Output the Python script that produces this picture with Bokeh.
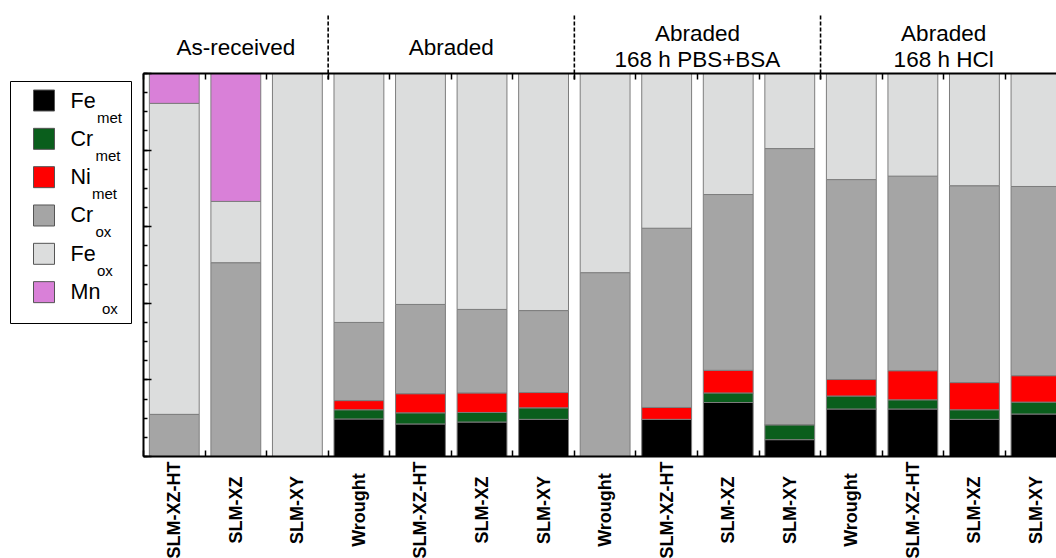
from math import pi
from bokeh.plotting import figure
from bokeh.models import Range1d, LinearAxis, FixedTicker, ColumnDataSource
from bokeh.core.properties import value
from bokeh.embed import file_html
from bokeh.resources import INLINE

# ---------------- data ----------------
samples = ["SLM-XZ-HT", "SLM-XZ", "SLM-XY",
           "Wrought", "SLM-XZ-HT", "SLM-XZ", "SLM-XY",
           "Wrought", "SLM-XZ-HT", "SLM-XZ", "SLM-XY",
           "Wrought", "SLM-XZ-HT", "SLM-XZ", "SLM-XY"]
groups = ["As-received", "Abraded", "Abraded\n168 h PBS+BSA", "Abraded\n168 h HCl"]
group_sizes = [3, 4, 4, 4]

series = ["Fe_met", "Cr_met", "Ni_met", "Cr_ox", "Fe_ox", "Mn_ox"]
label_base = ["Fe", "Cr", "Ni", "Cr", "Fe", "Mn"]
label_sub = ["met", "met", "met", "ox", "ox", "ox"]

fe_met = [0, 0, 0, 9.8, 8.5, 9.0, 9.7, 0, 9.7, 14.1, 4.4, 12.4, 12.4, 9.7, 11.1]
cr_met = [0, 0, 0, 2.4, 2.9, 2.5, 3.0, 0, 0, 2.5, 3.9, 3.4, 2.4, 2.5, 3.1]
ni_met = [0, 0, 0, 2.4, 5.0, 5.1, 4.0, 0, 3.1, 5.9, 0, 4.3, 7.6, 7.1, 6.9]
cr_ox = [11.0, 50.6, 0, 20.4, 23.3, 21.8, 21.4, 48.0, 46.8, 45.9, 72.1, 52.2, 50.8, 51.4, 49.4]
fe_ox = [81.2, 16.0, 100, 65.0, 60.3, 61.6, 61.9, 52.0, 40.4, 31.6, 19.6, 27.7, 26.8, 29.3, 29.5]
mn_ox = [7.8, 33.4, 0, 0, 0, 0, 0, 0, 0, 0, 0, 0, 0, 0, 0]

colors = ["#000000", "#0a5e1c", "#ff0000", "#a5a5a5", "#dcdddd", "#d980d8"]

# ---------------- layout helpers (page px -> data) ----------------
X0_PX, PITCH = 143.0, 61.55      # page x of x=0, px per category
Y0_PX, YSCALE = 456.0, 3.83      # page y of y=0, px per percent
W, H = 1056, 558
ORIGIN = 0                       # page offset of the canvas


def dx(px):
    return (px - X0_PX) / PITCH


def dy(py):
    return (Y0_PX - py) / YSCALE


n = len(samples)
centers = [i + 0.5 for i in range(n)]

source = ColumnDataSource(dict(x=centers, Fe_met=fe_met, Cr_met=cr_met, Ni_met=ni_met,
                               Cr_ox=cr_ox, Fe_ox=fe_ox, Mn_ox=mn_ox, name=samples))

p = figure(width=W, height=H, output_backend="svg", toolbar_location=None,
           x_range=Range1d(dx(ORIGIN), dx(ORIGIN + W)),
           y_range=Range1d(dy(ORIGIN + H), dy(ORIGIN)),
           x_axis_type=None, y_axis_type=None,
           min_border=0, min_border_left=0, min_border_right=0,
           min_border_top=0, min_border_bottom=0)
p.outline_line_color = None
p.background_fill_color = "white"

p.vbar_stack(series, x="x", width=0.81, source=source,
             fill_color=colors, line_color="#7d7d7d", line_width=1)

# ---------------- axes ----------------
left = LinearAxis(fixed_location=0, bounds=(0, 100),
                  ticker=FixedTicker(ticks=[0, 20, 40, 60, 80, 100],
                                     minor_ticks=list(range(0, 101, 5))))
left.major_label_text_font_size = "0px"
left.major_label_text_color = None
left.axis_line_width = 2
left.major_tick_in = 8
left.major_tick_out = 0
left.minor_tick_in = 4
left.minor_tick_out = 0
left.major_tick_line_width = 1.5
left.minor_tick_line_width = 1.5
p.add_layout(left, "left")

bottom = LinearAxis(fixed_location=0, bounds=(0, n),
                    ticker=FixedTicker(ticks=[], minor_ticks=list(range(0, n + 1))))
bottom.major_label_text_font_size = "0px"
bottom.major_tick_line_color = None
bottom.minor_tick_in = 6
bottom.minor_tick_out = 0
bottom.minor_tick_line_width = 1.5
bottom.axis_line_width = 2
p.add_layout(bottom, "below")

# sample names, centred under each bar and rotated
p.text(x="x", y=dy(509.5), text="name", source=source, angle=pi / 2,
       text_align="center", text_baseline="middle",
       text_font=value("Liberation Sans"), text_font_style="bold",
       text_font_size=value("18px"), text_color="black")

top = LinearAxis(fixed_location=100, bounds=(0, n),
                 ticker=FixedTicker(ticks=[], minor_ticks=list(range(0, n + 1))))
top.major_label_text_font_size = "0px"
top.minor_tick_in = 6
top.minor_tick_out = 0
top.minor_tick_line_width = 1.5
top.axis_line_width = 2
p.add_layout(top, "above")

# ---------------- group separators and headers ----------------
bounds = []
acc = 0
for s in group_sizes[:-1]:
    acc += s
    bounds.append(acc)
p.segment(x0=bounds, y0=[dy(79)] * len(bounds), x1=bounds, y1=[dy(13)] * len(bounds),
          line_color="black", line_width=1.6, line_dash="4 2")

acc = 0
for g, s in zip(groups, group_sizes):
    cx = acc + s / 2.0
    acc += s
    lines = g.split("\n")
    if len(lines) == 1:
        ys = [dy(47)]
    else:
        ys = [dy(33), dy(58.5)]
    p.text(x=[cx] * len(lines), y=ys, text=lines, text_align="center",
           text_baseline="middle", text_font=value("Liberation Sans"),
           text_font_size=value("22.5px"), text_color="black")

# ---------------- legend (hand-built, to get true subscripts) ----------------
p.quad(left=[dx(10)], right=[dx(131)], top=[dy(81)], bottom=[dy(323)],
       fill_color=None, line_color="black", line_width=1)
pitch = 38.33
sq_y = [dy(100 + pitch * i) for i in range(len(series))]
p.scatter(x=[dx(43.5)] * len(series), y=sq_y, marker="square", size=21,
          fill_color=colors, line_color="#555555", line_width=1)
p.text(x=[dx(70)] * len(series), y=[dy(100 + pitch * i) for i in range(len(series))],
       text=label_base, text_align="left", text_baseline="middle",
       text_font=value("Liberation Sans"), text_font_size=value("21.5px"), text_color="black")
sub_x_px = [96.5, 95.0, 91.5, 95.0, 96.5, 101.5]
p.text(x=[dx(v) for v in sub_x_px], y=[dy(116.5 + pitch * i) for i in range(len(series))],
       text=label_sub, text_align="left", text_baseline="middle",
       text_font=value("Liberation Sans"), text_font_size=value("15px"), text_color="black")

open("out.html", "w").write(file_html(p, INLINE))
